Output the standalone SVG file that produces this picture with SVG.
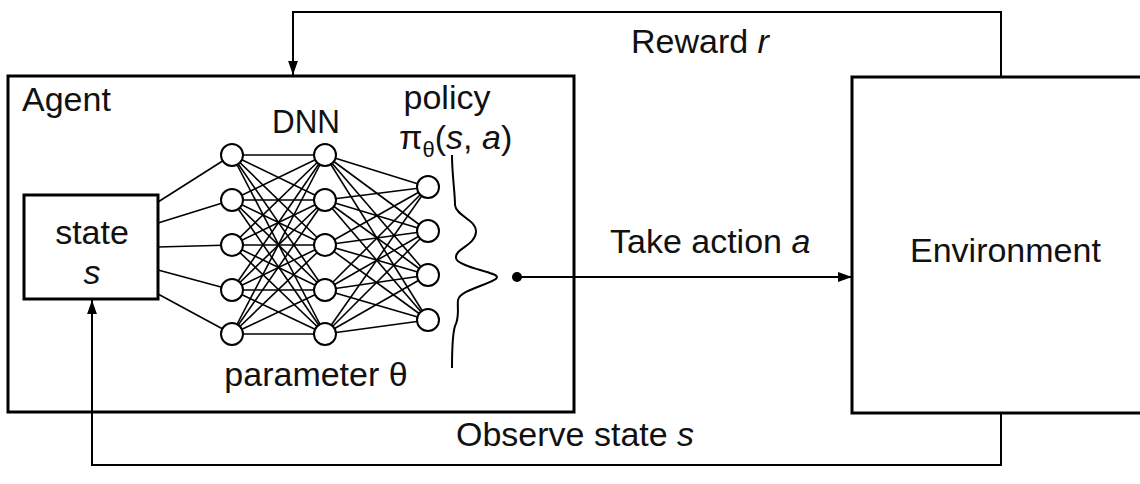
<svg xmlns="http://www.w3.org/2000/svg" width="1140" height="484" viewBox="0 0 1140 484">
<style>
.box{fill:#fff;stroke:#000;stroke-width:3}
.conn{fill:none;stroke:#000;stroke-width:2}
.edge{stroke:#000;stroke-width:1.6}
.node{fill:#fff;stroke:#000;stroke-width:2}
text{font-family:"Liberation Sans",Arial,sans-serif;font-size:34px;fill:#111}
.it{font-style:italic}
</style>
<defs>
<marker id="arrL" viewBox="0 0 10 10" refX="10" refY="5" markerWidth="14" markerHeight="14" markerUnits="userSpaceOnUse" orient="auto">
<path d="M0,1.5 L10,5 L0,8.5 z" fill="#000"/>
</marker>
</defs>
<rect width="1140" height="484" fill="#fff"/>

<g id="agent">
<rect class="box" x="8" y="76" width="566" height="336"/>
<text x="22" y="111">Agent</text>
</g>

<g id="environment">
<rect class="box" x="852" y="77" width="300" height="336"/>
<text x="910" y="262">Environment</text>
</g>

<g id="connectors">
<polyline class="conn" points="1001,77 1001,12 293,12 293,75" marker-end="url(#arrL)"/>
<polyline class="conn" points="1001,413 1001,465 92,465 92,300" marker-end="url(#arrL)"/>
<line class="conn" x1="517" y1="277" x2="852" y2="277" marker-end="url(#arrL)"/>
<circle cx="517" cy="277" r="5" fill="#000"/>
<text x="631" y="53">Reward <tspan class="it">r</tspan></text>
<text x="456" y="446">Observe state <tspan class="it">s</tspan></text>
<text x="610" y="253">Take action <tspan class="it">a</tspan></text>
</g>

<g id="dnn">
<g class="edge">
<line x1="158" y1="202" x2="232" y2="155"/>
<line x1="158" y1="223" x2="232" y2="200"/>
<line x1="158" y1="247" x2="232" y2="245"/>
<line x1="158" y1="270" x2="232" y2="290"/>
<line x1="158" y1="294" x2="232" y2="334"/>

<line x1="232" y1="155" x2="325" y2="155"/><line x1="232" y1="155" x2="325" y2="200"/><line x1="232" y1="155" x2="325" y2="245"/><line x1="232" y1="155" x2="325" y2="290"/><line x1="232" y1="155" x2="325" y2="334"/>
<line x1="232" y1="200" x2="325" y2="155"/><line x1="232" y1="200" x2="325" y2="200"/><line x1="232" y1="200" x2="325" y2="245"/><line x1="232" y1="200" x2="325" y2="290"/><line x1="232" y1="200" x2="325" y2="334"/>
<line x1="232" y1="245" x2="325" y2="155"/><line x1="232" y1="245" x2="325" y2="200"/><line x1="232" y1="245" x2="325" y2="245"/><line x1="232" y1="245" x2="325" y2="290"/><line x1="232" y1="245" x2="325" y2="334"/>
<line x1="232" y1="290" x2="325" y2="155"/><line x1="232" y1="290" x2="325" y2="200"/><line x1="232" y1="290" x2="325" y2="245"/><line x1="232" y1="290" x2="325" y2="290"/><line x1="232" y1="290" x2="325" y2="334"/>
<line x1="232" y1="334" x2="325" y2="155"/><line x1="232" y1="334" x2="325" y2="200"/><line x1="232" y1="334" x2="325" y2="245"/><line x1="232" y1="334" x2="325" y2="290"/><line x1="232" y1="334" x2="325" y2="334"/>

<line x1="325" y1="155" x2="428" y2="187"/><line x1="325" y1="155" x2="428" y2="231"/><line x1="325" y1="155" x2="428" y2="275"/><line x1="325" y1="155" x2="428" y2="320"/>
<line x1="325" y1="200" x2="428" y2="187"/><line x1="325" y1="200" x2="428" y2="231"/><line x1="325" y1="200" x2="428" y2="275"/><line x1="325" y1="200" x2="428" y2="320"/>
<line x1="325" y1="245" x2="428" y2="187"/><line x1="325" y1="245" x2="428" y2="231"/><line x1="325" y1="245" x2="428" y2="275"/><line x1="325" y1="245" x2="428" y2="320"/>
<line x1="325" y1="290" x2="428" y2="187"/><line x1="325" y1="290" x2="428" y2="231"/><line x1="325" y1="290" x2="428" y2="275"/><line x1="325" y1="290" x2="428" y2="320"/>
<line x1="325" y1="334" x2="428" y2="187"/><line x1="325" y1="334" x2="428" y2="231"/><line x1="325" y1="334" x2="428" y2="275"/><line x1="325" y1="334" x2="428" y2="320"/>
</g>
<g class="node">
<circle cx="232" cy="155" r="11"/><circle cx="232" cy="200" r="11"/><circle cx="232" cy="245" r="11"/><circle cx="232" cy="290" r="11"/><circle cx="232" cy="334" r="11"/>
<circle cx="325" cy="155" r="11"/><circle cx="325" cy="200" r="11"/><circle cx="325" cy="245" r="11"/><circle cx="325" cy="290" r="11"/><circle cx="325" cy="334" r="11"/>
<circle cx="428" cy="187" r="11"/><circle cx="428" cy="231" r="11"/><circle cx="428" cy="275" r="11"/><circle cx="428" cy="320" r="11"/>
</g>
<text x="306" y="133" text-anchor="middle" textLength="68" lengthAdjust="spacingAndGlyphs">DNN</text>
<text x="316" y="386" text-anchor="middle">parameter θ</text>
<text x="447" y="109" text-anchor="middle">policy</text>
<text x="399" y="149">π<tspan font-size="22" dy="8">θ</tspan><tspan dy="-8">(</tspan><tspan class="it">s</tspan>, <tspan class="it">a</tspan>)</text>
<path class="conn" d="M452,155 C452,175 455,192 455,205 C456,216 477,220 476,232 C475,246 455,248 456,258 C457,267 497,272 497,277 C497,283 460,289 458,300 C457,308 460,316 455,326 C452,336 452,350 452,368"/>
</g>

<g id="state">
<rect class="box" x="24" y="195" width="134" height="104"/>
<text x="92" y="244" text-anchor="middle" font-size="37">state</text>
<text x="92" y="284" text-anchor="middle" font-size="37" class="it">s</text>
</g>
</svg>
